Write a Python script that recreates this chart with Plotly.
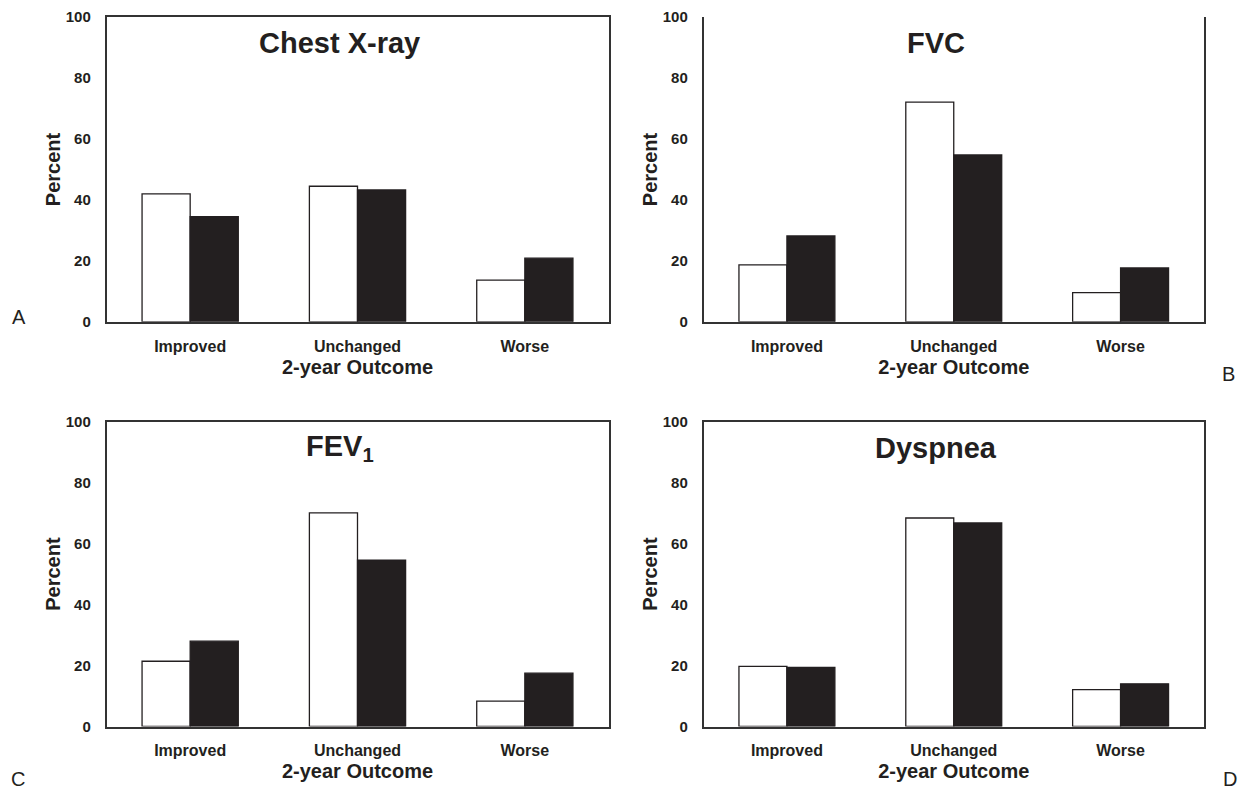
import plotly.graph_objects as go
from plotly.subplots import make_subplots

categories = ["Improved", "Unchanged", "Worse"]

chest_white = [42.0, 44.5, 13.7]
chest_black = [34.5, 43.3, 20.9]
fvc_white = [18.7, 72.1, 9.6]
fvc_black = [28.2, 54.8, 17.7]
fev1_white = [21.4, 70.1, 8.3]
fev1_black = [28.0, 54.6, 17.5]
dysp_white = [19.7, 68.4, 12.1]
dysp_black = [19.4, 66.8, 14.0]

panel_titles = ["Chest X-ray", "FVC", "FEV<sub>1</sub>", "Dyspnea"]
panel_letters = ["A", "B", "C", "D"]
y_ticks = [0, 20, 40, 60, 80, 100]

FONT = "Liberation Sans, Arial, Helvetica, sans-serif"
INK = "#231f20"

fig = make_subplots(rows=2, cols=2)

panels = [
    (1, 1, chest_white, chest_black),
    (1, 2, fvc_white, fvc_black),
    (2, 1, fev1_white, fev1_black),
    (2, 2, dysp_white, dysp_black),
]

for r, c, w, b in panels:
    fig.add_trace(go.Bar(x=categories, y=w, marker=dict(color="white", line=dict(color=INK, width=1.3)),
                         showlegend=False), row=r, col=c)
    fig.add_trace(go.Bar(x=categories, y=b, marker=dict(color=INK, line=dict(color=INK, width=1.3)),
                         showlegend=False), row=r, col=c)

W, H = 1241, 789
col_dom = [[106.5 / W, 608.5 / W], [703.5 / W, 1204 / W]]
row_dom = [[1 - 321.8 / H, 1 - 17.2 / H], [1 - 726.5 / H, 1 - 421.7 / H]]

axis_ids = [("xaxis", "yaxis"), ("xaxis2", "yaxis2"), ("xaxis3", "yaxis3"), ("xaxis4", "yaxis4")]
for i, (xa, ya) in enumerate(axis_ids):
    r, c = divmod(i, 2)
    mirror_x = i != 1
    fig.layout[xa].update(
        domain=col_dom[c], showline=True, linecolor="#333", linewidth=1.5, mirror=mirror_x,
        showgrid=False, zeroline=False, ticks="", ticklabelstandoff=9, automargin=False,
        tickfont=dict(family=FONT, size=16, color=INK, weight="bold"),
        title=dict(text="2-year Outcome", standoff=6,
                   font=dict(family=FONT, size=20, color=INK, weight="bold")),
    )
    fig.layout[ya].update(
        domain=row_dom[r], range=[0, 100], tickvals=y_ticks, showline=True, linecolor="#333",
        linewidth=1.5, mirror=True, showgrid=False, zeroline=False, ticks="", ticklabelstandoff=11,
        automargin=False,
        tickfont=dict(family=FONT, size=15, color=INK, weight="bold"),
        title=dict(text="Percent", standoff=0,
                   font=dict(family=FONT, size=20, color=INK, weight="bold")),
    )
    fig.add_annotation(text=panel_titles[i], xref=f"{xa.replace('axis', '')} domain",
                       yref=f"{ya.replace('axis', '')} domain", x=0.465, y=0.914,
                       xanchor="center", yanchor="middle", showarrow=False,
                       font=dict(family=FONT, size=29, color=INK, weight="bold"))

letter_pos = [(19, 317), (1228, 374), (18, 779), (1230, 779)]
for lt, (px, py) in zip(panel_letters, letter_pos):
    fig.add_annotation(text=lt, xref="paper", yref="paper", x=px / W, y=1 - py / H,
                       xanchor="center", yanchor="middle", showarrow=False,
                       font=dict(family=FONT, size=20, color=INK))

fig.update_layout(
    width=W, height=H, margin=dict(l=0, r=0, t=0, b=0, autoexpand=False),
    paper_bgcolor="white", plot_bgcolor="white",
    barmode="group", bargap=0.425, bargroupgap=0,
    showlegend=False,
)

fig.write_html(
    "out.html",
    config={"displayModeBar": False},
    post_script="document.body.style.margin='0';document.body.style.overflow='hidden';",
)
